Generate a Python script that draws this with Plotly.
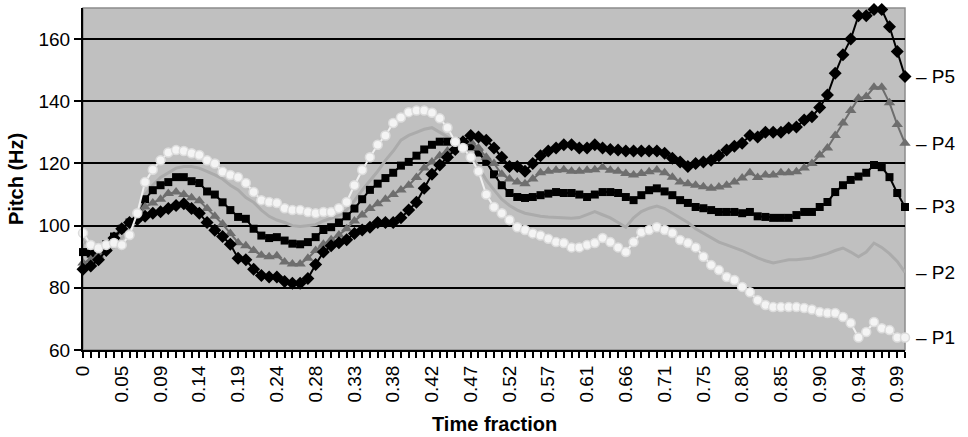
import plotly.graph_objects as go

# ---- data ----
n_points = 107
categories = list(range(n_points))  # category index along the time-fraction axis
tick_positions = [0, 5, 10, 15, 20, 25, 30, 35, 40, 45, 50, 55, 60, 65, 70, 75, 80, 85, 90, 95, 100, 105]
tick_labels = ["0", "0.05", "0.09", "0.14", "0.19", "0.24", "0.28", "0.33", "0.38", "0.42", "0.47",
               "0.52", "0.57", "0.61", "0.66", "0.71", "0.75", "0.80", "0.85", "0.90", "0.94", "0.99"]

p1 = [97.6, 93.8, 92.8, 93.8, 94.4, 93.8, 97, 104, 114, 118,
      121, 123.5, 124.3, 124, 123.3, 122.7, 121, 120, 117.3, 116.3,
      115.6, 113.7, 110.8, 108.2, 107.6, 107.3, 105.6, 105, 105, 104.4,
      104, 104.4, 104.4, 105.6, 107.6, 113, 117.9, 122, 126, 129,
      133, 134.8, 136.5, 137, 137, 136.3, 134.5, 131.5, 127, 125,
      122, 117.5, 110, 106, 104, 101.8, 99.5, 98.6, 97.5, 96.8,
      95.8, 94.7, 94.4, 93, 93, 93.8, 94.4, 96, 94.7, 93,
      91.5, 94.7, 97.9, 98.6, 99.5, 98.6, 97.6, 95.4, 94.4, 93,
      90, 87.3, 85.7, 83.5, 82.5, 80.3, 78.6, 76, 74.5, 73.8,
      73.8, 73.8, 73.8, 73.5, 73, 72.2, 71.9, 71.9, 70.6, 68.7,
      64, 65.8, 69, 67, 66.4, 64, 64]

p2 = [95, 93, 92, 92, 93, 96, 99, 102, 110, 113,
      115.5, 117, 118.5, 119, 119, 118.5, 117.5, 116.3, 115, 113,
      111.5, 109, 107.5, 105, 103, 101.8, 101, 100, 99.7, 100,
      100.3, 101.5, 102.3, 103.2, 105, 108, 111.4, 114.5, 117.5, 121,
      124, 127.5, 129, 130, 131, 131.5, 130, 128.5, 126.5, 124.5,
      122.5, 119, 114.7, 111.5, 108.5, 106.5, 105, 104, 103.4, 103,
      102.8, 102.7, 102.5, 102.4, 102.6, 103.5, 104.5, 103.5, 102.5, 101,
      99.5, 102.5, 104.5, 105.6, 106.3, 105.5, 104, 102.5, 101, 99,
      97.5, 96, 94.7, 93.8, 93, 92, 90.8, 89.6, 88.7, 88,
      88.5, 89, 89, 89.3, 89.6, 90.3, 91, 92, 92.8, 91.5,
      90, 91.5, 94.4, 93, 91, 88.5, 85]

p3 = [91.5, 91, 91.5, 94, 96.5, 99, 101, 102.5, 108.5, 111.4,
      113, 114, 115.6, 115.6, 114.3, 113.7, 111, 110, 107.5, 105,
      102.8, 102.2, 99, 96.8, 96, 96.3, 95.2, 94.2, 94, 94.7,
      96.3, 98.6, 99.5, 101, 103, 105.5, 108.5, 111.5, 113.5, 115.3,
      117, 119.3, 120.5, 122.5, 124.5, 126, 127, 127, 127, 126.5,
      125.5, 123.5, 120.5, 116.5, 113, 110.5, 109.2, 108.9, 109.2, 109.8,
      110.3, 110.8, 110.5, 110.5, 110, 109.2, 110, 110.8, 110.8, 110.5,
      109.2, 108.2, 109.8, 111.4, 112, 111, 109.8, 108.2, 107.3, 106,
      105.6, 105, 104.4, 104.4, 104.4, 104, 104.4, 103, 102.8, 102.5,
      102.5, 102.5, 103.4, 104.4, 104.4, 106, 107.6, 110.8, 113, 114.7,
      115.8, 117, 119.5, 118.8, 115.6, 110.5, 106]

p4 = [88, 89, 90.5, 92.5, 95.5, 98.5, 100.5, 102.5, 106, 107.3,
      108.5, 110.3, 110.8, 110, 109, 108, 105.5, 103, 100.5, 97.5,
      94.5, 93.5, 92, 90.5, 90, 90.3, 88.3, 87.7, 87.7, 89.5,
      92, 94, 95.5, 97, 99, 101.5, 103.4, 105.5, 107, 108.5,
      110, 111.5, 113, 115.5, 118.5, 120.5, 122.5, 124, 125, 126.5,
      127, 125, 122, 120, 116.5, 115, 114, 113.5, 115, 117,
      117.5, 117.8, 118, 117.5, 117.5, 117.8, 118, 118.8, 117.8, 117.5,
      116.8, 116.3, 116.8, 117.3, 117.9, 117, 115.6, 114, 113.5, 113,
      112.5, 112, 112.4, 113, 114, 115.3, 117, 115.5, 116.3, 116.3,
      117, 117, 117.3, 118.5, 120, 122.7, 125, 129, 133, 137,
      141, 141.5, 144.5, 144.5, 139.5, 132.5, 126.5]

p5 = [86, 87, 89, 92, 96, 99, 101, 102, 103, 104,
      104.5, 105.5, 106.5, 107, 105.5, 104, 101, 98.5, 96.5, 94,
      89.5, 89, 86, 84, 83.5, 83.5, 82, 81.5, 81.5, 83,
      87.5, 91.5, 93.5, 94.5, 95.5, 97.5, 98.6, 99.5, 101, 101,
      101, 102.5, 105, 107.5, 112, 116.5, 119.5, 122, 124.5, 127,
      129, 128.5, 127.5, 125, 122, 119, 119, 117.5, 120, 122.5,
      124, 125, 126, 126, 125, 125, 126, 125, 124.5, 124.3,
      124, 124, 124, 124, 124, 123.3, 121.7, 120.5, 119, 120,
      120.5, 121, 122.5, 124.3, 125.5, 126.5, 129, 128.5, 130, 130,
      130, 131.4, 131.7, 134, 135, 138, 142, 149, 155, 160,
      167.5, 167.5, 169.5, 169.5, 164, 156, 148]

series_names = ["P1", "P2", "P3", "P4", "P5"]
y_ticks = [60, 80, 100, 120, 140, 160]

FONT = "Liberation Sans, Arial, sans-serif"

fig = go.Figure()

fig.add_trace(go.Scatter(x=categories, y=p2, name="P2", mode="lines",
                         line=dict(color="#ABABAB", width=3), cliponaxis=False))
fig.add_trace(go.Scatter(x=categories, y=p3, name="P3", mode="lines+markers",
                         line=dict(color="#000000", width=2),
                         marker=dict(symbol="square", size=8, color="#000000"), cliponaxis=False))
fig.add_trace(go.Scatter(x=categories, y=p4, name="P4", mode="lines+markers",
                         line=dict(color="#6E6E6E", width=2),
                         marker=dict(symbol="triangle-up", size=10, color="#6E6E6E"), cliponaxis=False))
fig.add_trace(go.Scatter(x=categories, y=p5, name="P5", mode="lines+markers",
                         line=dict(color="#000000", width=2),
                         marker=dict(symbol="diamond", size=10, color="#000000"), cliponaxis=False))
fig.add_trace(go.Scatter(x=categories, y=p1, name="P1", mode="lines+markers",
                         line=dict(color="#EFEFEF", width=2),
                         marker=dict(symbol="circle", size=9, color="#F4F4F4",
                                     line=dict(color="#DCDCDC", width=1.5)), cliponaxis=False))

annotations = []
for name, vals in zip(series_names, [p1, p2, p3, p4, p5]):
    annotations.append(dict(x=1, xref="paper", y=vals[-1], yref="y", text="– " + name,
                            showarrow=False, xanchor="left", yanchor="middle", xshift=9,
                            font=dict(family=FONT, size=19, color="#000000")))
annotations.append(dict(x=0, xref="paper", y=0.5, yref="paper", text="<b>Pitch (Hz)</b>",
                        textangle=-90, showarrow=False, xanchor="center", yanchor="middle",
                        xshift=-67, font=dict(family=FONT, size=20, color="#000000")))
annotations.append(dict(x=0.5, xref="paper", y=0, yref="paper", text="<b>Time fraction</b>",
                        showarrow=False, xanchor="center", yanchor="middle",
                        yshift=-74, font=dict(family=FONT, size=20, color="#000000")))

fig.update_layout(
    width=968, height=437,
    margin=dict(l=83, r=63, t=8, b=87, pad=0),
    paper_bgcolor="#FFFFFF",
    plot_bgcolor="#C0C0C0",
    showlegend=False,
    annotations=annotations,
    shapes=[dict(type="rect", xref="paper", yref="paper", x0=0, y0=0, x1=1, y1=1,
                 line=dict(color="#8C8C8C", width=1.5), layer="below")],
    font=dict(family=FONT, size=19, color="#000000"),
)

fig.update_xaxes(
    range=[0, n_points - 1],
    tickmode="array", tickvals=tick_positions, ticktext=tick_labels,
    tickangle=-90, ticks="outside", ticklen=6, tickwidth=1.5, tickcolor="#000000",
    minor=dict(dtick=1, tick0=0, ticks="outside", ticklen=6, tickwidth=1.5, tickcolor="#000000", showgrid=False),
    showgrid=False, zeroline=False,
    showline=True, linecolor="#000000", linewidth=2,
    tickfont=dict(family=FONT, size=19, color="#000000"),
)
fig.update_yaxes(
    range=[60, 170],
    tickmode="array", tickvals=y_ticks,
    ticks="outside", ticklen=7, tickwidth=2, tickcolor="#000000",
    showgrid=True, gridcolor="#000000", gridwidth=2,
    zeroline=False,
    showline=True, linecolor="#000000", linewidth=2,
    tickfont=dict(family=FONT, size=19, color="#000000"),
)

fig.write_html("out.html")
